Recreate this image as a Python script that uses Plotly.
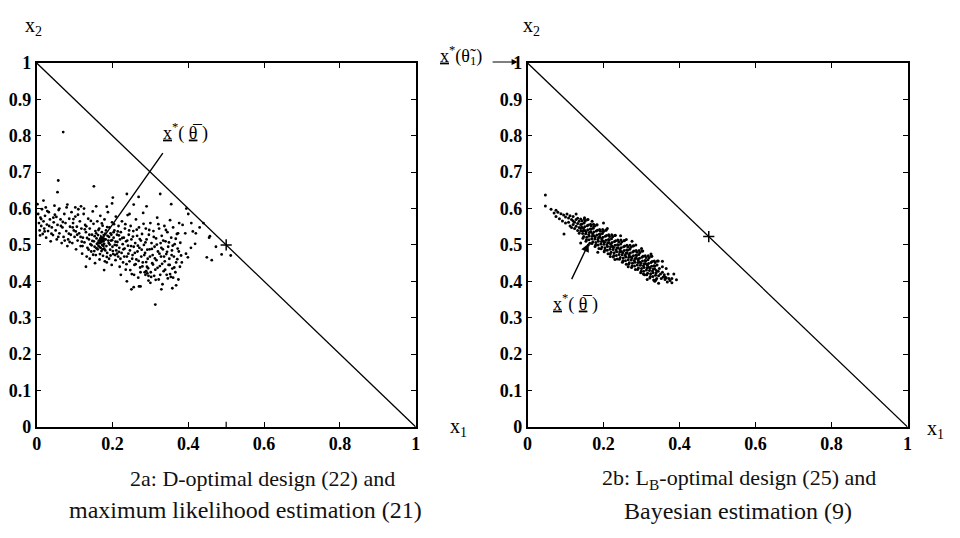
import plotly.graph_objects as go

# ---------------- data ----------------
# Panel 2a: ML estimates of the optimal design point (x1, x2)
left_pts = [
    # sparse outliers
    (0.070, 0.810), (0.057, 0.677), (0.055, 0.645), (0.151, 0.661), (0.238, 0.640), (0.326, 0.640),
    (0.313, 0.336), (0.400, 0.585), (0.440, 0.560), (0.473, 0.495), (0.449, 0.466), (0.462, 0.458),
    (0.488, 0.474), (0.512, 0.471), (0.418, 0.503), (0.407, 0.492), (0.394, 0.476), (0.399, 0.466),
    (0.381, 0.471), (0.373, 0.532), (0.250, 0.378), (0.270, 0.386), (0.329, 0.378), (0.368, 0.389),
    (0.358, 0.381), (0.300, 0.396), (0.130, 0.440), (0.178, 0.431), (0.201, 0.630), (0.199, 0.614),
    (0.269, 0.632), (0.256, 0.611), (0.245, 0.585), (0.018, 0.622), (0.117, 0.606), (0.102, 0.603),
    (0.157, 0.606), (0.081, 0.611), (0.060, 0.600), (0.290, 0.606), (0.355, 0.612), (0.395, 0.600),
    (0.420, 0.532), (0.457, 0.524), (0.412, 0.537), (0.392, 0.532), (0.430, 0.548), (0.408, 0.560),
    (0.385, 0.555), (0.455, 0.520), (0.360, 0.410), (0.352, 0.420), (0.222, 0.418), (0.238, 0.400),
    (0.185, 0.452), (0.256, 0.384), (0.274, 0.386),
    # left part of cloud
    (0.004, 0.585), (0.006, 0.560), (0.008, 0.540), (0.010, 0.575), (0.012, 0.552), (0.014, 0.598),
    (0.016, 0.530), (0.018, 0.565), (0.020, 0.545), (0.022, 0.580), (0.025, 0.520), (0.027, 0.556),
    (0.030, 0.538), (0.032, 0.590), (0.035, 0.570), (0.037, 0.510), (0.040, 0.548), (0.043, 0.527),
    (0.045, 0.562), (0.048, 0.583), (0.050, 0.540), (0.053, 0.515), (0.055, 0.555), (0.058, 0.596),
    (0.060, 0.532), (0.063, 0.570), (0.066, 0.505), (0.068, 0.548), (0.071, 0.522), (0.073, 0.585),
    (0.076, 0.560), (0.078, 0.538), (0.081, 0.497), (0.083, 0.515), (0.086, 0.572), (0.088, 0.550),
    (0.090, 0.528), (0.002, 0.612), (0.024, 0.603), (0.047, 0.608),
    (0.012, 0.571), (0.028, 0.593), (0.039, 0.531), (0.052, 0.577), (0.064, 0.552), (0.079, 0.603),
    (0.087, 0.508), (0.095, 0.548), (0.085, 0.531), (0.074, 0.512), (0.069, 0.563), (0.057, 0.522),
    (0.044, 0.575), (0.033, 0.552), (0.021, 0.537), (0.009, 0.526),
    # middle part (dense centre)
    (0.092, 0.590), (0.094, 0.505), (0.096, 0.560), (0.098, 0.540), (0.100, 0.522), (0.102, 0.578),
    (0.104, 0.488), (0.106, 0.550), (0.108, 0.512), (0.110, 0.598), (0.112, 0.532), (0.114, 0.565),
    (0.116, 0.497), (0.118, 0.545), (0.120, 0.476), (0.122, 0.520), (0.124, 0.585), (0.126, 0.507),
    (0.128, 0.555), (0.130, 0.535), (0.132, 0.468), (0.134, 0.492), (0.136, 0.572), (0.138, 0.515),
    (0.140, 0.545), (0.142, 0.502), (0.144, 0.482), (0.146, 0.528), (0.148, 0.592), (0.150, 0.558),
    (0.151, 0.510), (0.153, 0.495), (0.155, 0.538), (0.156, 0.472), (0.158, 0.518), (0.159, 0.503),
    (0.160, 0.565), (0.161, 0.488), (0.162, 0.527), (0.163, 0.498), (0.164, 0.512), (0.165, 0.545),
    (0.166, 0.460), (0.167, 0.505), (0.168, 0.580), (0.169, 0.492), (0.170, 0.520), (0.171, 0.483),
    (0.172, 0.535), (0.173, 0.500), (0.174, 0.553), (0.175, 0.470), (0.176, 0.510), (0.177, 0.527),
    (0.178, 0.490), (0.179, 0.570), (0.180, 0.455), (0.182, 0.515), (0.183, 0.540), (0.184, 0.497),
    (0.186, 0.478), (0.187, 0.525), (0.188, 0.590), (0.190, 0.505), (0.191, 0.462), (0.192, 0.548),
    (0.194, 0.487), (0.195, 0.532), (0.196, 0.512), (0.198, 0.445), (0.199, 0.562), (0.200, 0.495),
    (0.202, 0.475), (0.203, 0.520), (0.205, 0.540), (0.206, 0.500), (0.208, 0.458), (0.209, 0.578),
    (0.210, 0.485), (0.212, 0.528), (0.213, 0.508), (0.215, 0.468), (0.216, 0.552), (0.218, 0.492),
    (0.219, 0.440), (0.220, 0.515), (0.154, 0.450), (0.140, 0.462), (0.125, 0.600), (0.185, 0.605),
    (0.097, 0.571), (0.103, 0.537), (0.109, 0.583), (0.119, 0.509), (0.127, 0.543), (0.133, 0.519),
    (0.137, 0.487), (0.143, 0.566), (0.147, 0.511), (0.152, 0.483), (0.157, 0.532), (0.162, 0.506),
    (0.166, 0.494), (0.168, 0.517), (0.171, 0.508), (0.174, 0.488), (0.178, 0.503), (0.181, 0.531),
    (0.185, 0.467), (0.189, 0.512), (0.193, 0.501), (0.197, 0.528), (0.201, 0.483), (0.204, 0.557),
    (0.207, 0.472), (0.211, 0.499), (0.214, 0.537), (0.217, 0.481), (0.116, 0.522), (0.121, 0.497),
    (0.131, 0.551), (0.139, 0.528), (0.145, 0.499), (0.149, 0.473), (0.153, 0.524), (0.158, 0.491),
    (0.163, 0.541), (0.167, 0.475), (0.172, 0.559), (0.176, 0.497), (0.181, 0.485), (0.186, 0.549),
    (0.191, 0.522), (0.195, 0.471), (0.199, 0.513), (0.203, 0.535), (0.208, 0.509), (0.212, 0.476),
    (0.217, 0.526), (0.107, 0.528),
    # right part
    (0.222, 0.535), (0.224, 0.478), (0.225, 0.565), (0.227, 0.502), (0.228, 0.452), (0.230, 0.520),
    (0.232, 0.490), (0.233, 0.545), (0.235, 0.432), (0.236, 0.510), (0.238, 0.468), (0.240, 0.582),
    (0.241, 0.498), (0.243, 0.528), (0.245, 0.455), (0.246, 0.485), (0.248, 0.552), (0.250, 0.515),
    (0.251, 0.420), (0.253, 0.472), (0.255, 0.538), (0.256, 0.495), (0.258, 0.445), (0.260, 0.505),
    (0.262, 0.570), (0.263, 0.460), (0.265, 0.525), (0.266, 0.482), (0.268, 0.410), (0.270, 0.548),
    (0.271, 0.492), (0.273, 0.438), (0.275, 0.512), (0.276, 0.468), (0.278, 0.530), (0.280, 0.452),
    (0.281, 0.588), (0.283, 0.500), (0.285, 0.425), (0.286, 0.478), (0.288, 0.545), (0.290, 0.515),
    (0.291, 0.440), (0.293, 0.462), (0.295, 0.402), (0.296, 0.528), (0.298, 0.488), (0.300, 0.560),
    (0.301, 0.425), (0.303, 0.505), (0.305, 0.450), (0.306, 0.472), (0.308, 0.538), (0.310, 0.415),
    (0.311, 0.495), (0.313, 0.432), (0.315, 0.518), (0.316, 0.458), (0.318, 0.575), (0.320, 0.482),
    (0.322, 0.405), (0.323, 0.545), (0.325, 0.442), (0.327, 0.505), (0.328, 0.468), (0.330, 0.525),
    (0.332, 0.392), (0.333, 0.488), (0.335, 0.428), (0.337, 0.552), (0.338, 0.455), (0.340, 0.510),
    (0.342, 0.475), (0.343, 0.418), (0.345, 0.535), (0.347, 0.495), (0.348, 0.445), (0.350, 0.462),
    (0.352, 0.568), (0.354, 0.412), (0.355, 0.520), (0.357, 0.485), (0.358, 0.435), (0.360, 0.548),
    (0.362, 0.468), (0.364, 0.502), (0.366, 0.425), (0.368, 0.452), (0.370, 0.530), (0.372, 0.490),
    (0.374, 0.405), (0.376, 0.560), (0.378, 0.440),
    (0.287, 0.418), (0.292, 0.422), (0.289, 0.428), (0.295, 0.415),
    (0.221, 0.462), (0.226, 0.519), (0.229, 0.488), (0.231, 0.468), (0.234, 0.557), (0.237, 0.447),
    (0.239, 0.512), (0.242, 0.476), (0.244, 0.540), (0.247, 0.431), (0.249, 0.497), (0.252, 0.462),
    (0.254, 0.523), (0.257, 0.418), (0.259, 0.478), (0.261, 0.447), (0.264, 0.542), (0.267, 0.498),
    (0.269, 0.456), (0.272, 0.516), (0.274, 0.425), (0.277, 0.487), (0.279, 0.441), (0.282, 0.558),
    (0.284, 0.472), (0.287, 0.507), (0.289, 0.453), (0.292, 0.487), (0.294, 0.436), (0.297, 0.541),
    (0.299, 0.468), (0.302, 0.412), (0.304, 0.489), (0.307, 0.446), (0.309, 0.522), (0.312, 0.463),
    (0.314, 0.404), (0.317, 0.501), (0.319, 0.437), (0.321, 0.557), (0.324, 0.476), (0.326, 0.418),
    (0.329, 0.492), (0.331, 0.448), (0.334, 0.512), (0.336, 0.468), (0.339, 0.432), (0.341, 0.541),
    (0.344, 0.481), (0.346, 0.408), (0.349, 0.507), (0.351, 0.445), (0.356, 0.472), (0.359, 0.498),
    (0.363, 0.438), (0.367, 0.517), (0.371, 0.461), (0.375, 0.482), (0.379, 0.506), (0.383, 0.452),
]

# Panel 2b: Bayesian estimates of the optimal design point (x1, x2)
right_pts = [
    (0.047, 0.637), (0.047, 0.607), (0.096, 0.530), (0.140, 0.505), (0.260, 0.515), (0.200, 0.560),
    (0.300, 0.490),
    (0.150, 0.575), (0.170, 0.565), (0.185, 0.480), (0.210, 0.545), (0.230, 0.460), (0.245, 0.525),
    (0.265, 0.440), (0.285, 0.500), (0.305, 0.420), (0.325, 0.475), (0.335, 0.400), (0.160, 0.500),
    (0.128, 0.585), (0.218, 0.468), (0.275, 0.510), (0.315, 0.405), (0.345, 0.395), (0.355, 0.455),
    (0.385, 0.420), (0.365, 0.435),
    (0.062, 0.598), (0.070, 0.588), (0.075, 0.595), (0.075, 0.578), (0.080, 0.590), (0.084, 0.572),
    (0.088, 0.586), (0.092, 0.566), (0.095, 0.582), (0.100, 0.577), (0.100, 0.560), (0.104, 0.585),
    (0.108, 0.562), (0.108, 0.574), (0.112, 0.552), (0.112, 0.580), (0.116, 0.570), (0.116, 0.548),
    (0.120, 0.566), (0.120, 0.556), (0.120, 0.578), (0.124, 0.545), (0.124, 0.562), (0.128, 0.570),
    (0.128, 0.551), (0.132, 0.540), (0.132, 0.559), (0.132, 0.573), (0.136, 0.548), (0.136, 0.532),
    (0.136, 0.565), (0.140, 0.556), (0.140, 0.538), (0.140, 0.545), (0.140, 0.571),
    (0.1425, 0.5496), (0.1450, 0.5316), (0.1440, 0.5666), (0.1458, 0.5186), (0.1432, 0.5576),
    (0.1465, 0.5382), (0.1490, 0.5602), (0.1480, 0.5232), (0.1498, 0.5712), (0.1472, 0.5452),
    (0.1505, 0.5498), (0.1530, 0.5308), (0.1520, 0.5658), (0.1538, 0.5098), (0.1512, 0.5398),
    (0.1545, 0.5364), (0.1570, 0.5524), (0.1560, 0.5214), (0.1578, 0.5694), (0.1552, 0.5144),
    (0.1585, 0.5420), (0.1610, 0.5290), (0.1600, 0.5550), (0.1618, 0.5140), (0.1592, 0.5700),
    (0.1625, 0.5246), (0.1650, 0.5436), (0.1640, 0.5046), (0.1658, 0.5566), (0.1632, 0.5346),
    (0.1665, 0.5352), (0.1690, 0.5172), (0.1680, 0.5522), (0.1698, 0.5042), (0.1672, 0.5432),
    (0.1705, 0.5238), (0.1730, 0.5458), (0.1720, 0.5088), (0.1738, 0.5568), (0.1712, 0.5308),
    (0.1745, 0.5354), (0.1770, 0.5164), (0.1760, 0.5514), (0.1778, 0.4954), (0.1752, 0.5254),
    (0.1785, 0.5220), (0.1810, 0.5380), (0.1800, 0.5070), (0.1818, 0.5550), (0.1792, 0.5000),
    (0.1825, 0.5276), (0.1850, 0.5146), (0.1840, 0.5406), (0.1858, 0.4996), (0.1832, 0.5556),
    (0.1865, 0.5102), (0.1890, 0.5292), (0.1880, 0.4902), (0.1898, 0.5422), (0.1872, 0.5202),
    (0.1905, 0.5208), (0.1930, 0.5028), (0.1920, 0.5378), (0.1938, 0.4898), (0.1912, 0.5288),
    (0.1945, 0.5094), (0.1970, 0.5314), (0.1960, 0.4944), (0.1978, 0.5424), (0.1952, 0.5164),
    (0.1985, 0.5210), (0.2010, 0.5020), (0.2000, 0.5370), (0.2018, 0.4810), (0.1992, 0.5110),
    (0.2025, 0.5076), (0.2050, 0.5236), (0.2040, 0.4926), (0.2058, 0.5406), (0.2032, 0.4856),
    (0.2065, 0.5132), (0.2090, 0.5002), (0.2080, 0.5262), (0.2098, 0.4852), (0.2072, 0.5412),
    (0.2105, 0.4958), (0.2130, 0.5148), (0.2120, 0.4758), (0.2138, 0.5278), (0.2112, 0.5058),
    (0.2145, 0.5064), (0.2170, 0.4884), (0.2160, 0.5234), (0.2178, 0.4754), (0.2152, 0.5144),
    (0.2185, 0.4950), (0.2210, 0.5170), (0.2200, 0.4800), (0.2218, 0.5280), (0.2192, 0.5020),
    (0.2225, 0.5066), (0.2250, 0.4876), (0.2240, 0.5226), (0.2258, 0.4666), (0.2232, 0.4966),
    (0.2265, 0.4932), (0.2290, 0.5092), (0.2280, 0.4782), (0.2298, 0.5262), (0.2272, 0.4712),
    (0.2305, 0.4988), (0.2330, 0.4858), (0.2320, 0.5118), (0.2338, 0.4708), (0.2312, 0.5268),
    (0.2345, 0.4814), (0.2370, 0.5004), (0.2360, 0.4614), (0.2378, 0.5134), (0.2352, 0.4914),
    (0.2385, 0.4920), (0.2410, 0.4740), (0.2400, 0.5090), (0.2418, 0.4610), (0.2392, 0.5000),
    (0.2425, 0.4806), (0.2450, 0.5026), (0.2440, 0.4656), (0.2458, 0.5136), (0.2432, 0.4876),
    (0.2465, 0.4922), (0.2490, 0.4732), (0.2480, 0.5082), (0.2498, 0.4522), (0.2472, 0.4822),
    (0.2505, 0.4788), (0.2530, 0.4948), (0.2520, 0.4638), (0.2538, 0.5118), (0.2512, 0.4568),
    (0.2545, 0.4844), (0.2570, 0.4714), (0.2560, 0.4974), (0.2578, 0.4564), (0.2552, 0.5124),
    (0.2585, 0.4670), (0.2610, 0.4860), (0.2600, 0.4470), (0.2618, 0.4990), (0.2592, 0.4770),
    (0.2625, 0.4776), (0.2650, 0.4596), (0.2640, 0.4946), (0.2658, 0.4466), (0.2632, 0.4856),
    (0.2665, 0.4662), (0.2690, 0.4882), (0.2680, 0.4512), (0.2698, 0.4992), (0.2672, 0.4732),
    (0.2705, 0.4778), (0.2730, 0.4588), (0.2720, 0.4938), (0.2738, 0.4378), (0.2712, 0.4678),
    (0.2745, 0.4644), (0.2770, 0.4804), (0.2760, 0.4494), (0.2778, 0.4974), (0.2752, 0.4424),
    (0.2785, 0.4700), (0.2810, 0.4570), (0.2800, 0.4830), (0.2818, 0.4420), (0.2792, 0.4980),
    (0.2825, 0.4526), (0.2850, 0.4716), (0.2840, 0.4326), (0.2858, 0.4846), (0.2832, 0.4626),
    (0.2865, 0.4632), (0.2890, 0.4452), (0.2880, 0.4802), (0.2898, 0.4322), (0.2872, 0.4712),
    (0.2905, 0.4518), (0.2930, 0.4738), (0.2920, 0.4368), (0.2938, 0.4848), (0.2912, 0.4588),
    (0.2945, 0.4634), (0.2970, 0.4444), (0.2960, 0.4794), (0.2978, 0.4234), (0.2952, 0.4534),
    (0.2985, 0.4500), (0.3010, 0.4660), (0.3000, 0.4350), (0.3018, 0.4830), (0.2992, 0.4280),
    (0.3025, 0.4556), (0.3050, 0.4426), (0.3040, 0.4686), (0.3058, 0.4276), (0.3032, 0.4836),
    (0.3065, 0.4382), (0.3090, 0.4572), (0.3080, 0.4182), (0.3098, 0.4702), (0.3072, 0.4482),
    (0.3105, 0.4488), (0.3130, 0.4308), (0.3120, 0.4658), (0.3138, 0.4178), (0.3112, 0.4568),
    (0.3145, 0.4374), (0.3170, 0.4594), (0.3160, 0.4224), (0.3178, 0.4704), (0.3152, 0.4444),
    (0.3185, 0.4490), (0.3210, 0.4300), (0.3200, 0.4650), (0.3218, 0.4090), (0.3192, 0.4390),
    (0.3225, 0.4356), (0.3250, 0.4516), (0.3240, 0.4206), (0.3258, 0.4686), (0.3232, 0.4136),
    (0.3265, 0.4412), (0.3290, 0.4282), (0.3280, 0.4542), (0.3298, 0.4132), (0.3272, 0.4692),
    (0.3305, 0.4238), (0.3330, 0.4428), (0.3320, 0.4038), (0.3338, 0.4558), (0.3312, 0.4338),
    (0.3345, 0.4344), (0.3370, 0.4164), (0.3360, 0.4514), (0.3378, 0.4034), (0.3352, 0.4424),
    (0.3385, 0.4230), (0.3410, 0.4450), (0.3400, 0.4080), (0.3418, 0.4560), (0.3392, 0.4300),
    (0.344, 0.428), (0.345, 0.415), (0.347, 0.435), (0.350, 0.420), (0.352, 0.408), (0.355, 0.425),
    (0.357, 0.412), (0.360, 0.418), (0.362, 0.405), (0.365, 0.410), (0.368, 0.398), (0.372, 0.408),
    (0.375, 0.402), (0.380, 0.396), (0.392, 0.404), (0.355, 0.440), (0.370, 0.420), (0.344, 0.456),
    (0.362, 0.411), (0.380, 0.408),
]

# Design-space boundary x1 + x2 = 1
boundary_x = [0, 1]
boundary_y = [1, 0]
# optimal design points marked on the boundary
left_design = [(0.5, 0.5)]
right_design = [(0.477, 0.523)]
# true-parameter optimum x*(theta-bar) pointed at by arrows
left_true = (0.164, 0.503)
right_true = (0.161, 0.504)

xtick_vals = [0, 0.2, 0.4, 0.6, 0.8, 1]
xtick_text = ["0", "0.2", "0.4", "0.6", "0.8", "1"]
ytick_vals = [0, 0.1, 0.2, 0.3, 0.4, 0.5, 0.6, 0.7, 0.8, 0.9, 1]
ytick_text = ["0", "0.1", "0.2", "0.3", "0.4", "0.5", "0.6", "0.7", "0.8", "0.9", "1"]

captions_left = ["2a: D-optimal design (22) and", "maximum likelihood estimation (21)"]
captions_right = ["2b: L<sub>B</sub>-optimal design (25) and", "Bayesian estimation (9)"]

# ---------------- figure ----------------
FONT = "Liberation Serif"
W, H = 960, 538

def px(xp):
    return xp / W

def py(yp):
    return 1 - yp / H

fig = go.Figure()

for pts, xa, ya, ms in [(left_pts, "x", "y", 2.8), (right_pts, "x2", "y2", 3.0)]:
    fig.add_trace(go.Scatter(
        x=[p[0] for p in pts], y=[p[1] for p in pts], mode="markers",
        marker=dict(size=ms, color="black"), xaxis=xa, yaxis=ya, hoverinfo="skip"))
    fig.add_trace(go.Scatter(
        x=boundary_x, y=boundary_y, mode="lines", line=dict(color="black", width=1.3),
        xaxis=xa, yaxis=ya, hoverinfo="skip"))

for pts, xa, ya in [(left_design, "x", "y"), (right_design, "x2", "y2")]:
    fig.add_trace(go.Scatter(
        x=[p[0] for p in pts], y=[p[1] for p in pts], mode="markers",
        marker=dict(symbol="cross-thin", size=8, line=dict(color="black", width=1.5)),
        xaxis=xa, yaxis=ya, hoverinfo="skip"))

axis_common = dict(
    range=[0, 1], showgrid=False, zeroline=False, showline=True, linecolor="black",
    linewidth=1.5, mirror="ticks", ticks="inside", ticklen=5, tickwidth=1.2,
    tickcolor="black", tickfont=dict(family=FONT, size=18, color="black", weight="bold"),
    fixedrange=True,
)

ydom = [py(433), py(55)]
fig.update_layout(
    width=W, height=H, margin=dict(l=0, r=0, t=0, b=0),
    paper_bgcolor="white", plot_bgcolor="white", showlegend=False,
    xaxis=dict(axis_common, domain=[px(32), px(415)], anchor="y",
               tickvals=xtick_vals, ticktext=xtick_text),
    yaxis=dict(axis_common, domain=ydom, anchor="x",
               tickvals=ytick_vals, ticktext=ytick_text),
    xaxis2=dict(axis_common, domain=[px(528), px(912)], anchor="y2",
                tickvals=xtick_vals, ticktext=xtick_text),
    yaxis2=dict(axis_common, domain=ydom, anchor="x2",
                tickvals=ytick_vals, ticktext=ytick_text),
)

# extra tick at x1 = 0.5 on the left panel's bottom axis
fig.add_shape(type="line", xref="x", yref="y domain", x0=0.5, x1=0.5, y0=0, y1=0.014,
              line=dict(color="black", width=1.2))

ann = []

def text_ann(text, xp, yp, font):
    return dict(text=text, x=px(xp), y=py(yp), xref="paper", yref="paper", showarrow=False,
                xanchor="center", yanchor="middle", font=font)

lab_font = dict(family=FONT, size=20, color="black")
# axis names
ann.append(text_ann("x<sub>2</sub>", 29, 17, lab_font))
ann.append(text_ann("x<sub>1</sub>", 458, 434, lab_font))
ann.append(text_ann("x<sub>2</sub>", 532, 17, lab_font))
ann.append(text_ann("x<sub>1</sub>", 940, 436, lab_font))

# captions
cap1_font = dict(family=FONT, size=22, color="#111111")
cap2_font = dict(family=FONT, size=24, color="#111111")
ann.append(text_ann(captions_left[0], 260, 487, cap1_font))
ann.append(text_ann(captions_left[1], 243, 519, cap2_font))
ann.append(text_ann(captions_right[0], 742, 487, cap1_font))
ann.append(text_ann(captions_right[1], 741, 520, cap2_font))

# x*(theta-bar) labels and arrows
lbl_font = dict(family=FONT, size=18, color="black")
theta_bar = "<u>x</u><sup>*</sup>( <u>\u03b8\u0305</u> )"
ann.append(text_ann(theta_bar, 182, 127, lbl_font))
ann.append(dict(text=" ", x=left_true[0], y=left_true[1], xref="x", yref="y", showarrow=True,
                ax=67, ay=-95, arrowhead=2, arrowsize=1.2, arrowwidth=1.4, arrowcolor="black", standoff=0))
ann.append(text_ann(theta_bar, 577, 304, lbl_font))
ann.append(dict(text=" ", x=right_true[0], y=right_true[1], xref="x2", yref="y2", showarrow=True,
                ax=-20, ay=42, arrowhead=2, arrowsize=1.2, arrowwidth=1.4, arrowcolor="black", standoff=0))
# x*(theta~1) at the corner (0,1) of panel 2b
ann.append(text_ann("<u>x</u><sup>*</sup>(\u03b8\u0303<sub>1</sub>)", 461, 47, lbl_font))
ann.append(dict(text=" ", x=px(518), y=py(54), xref="paper", yref="paper", showarrow=True,
                ax=-28, ay=0, arrowhead=2, arrowsize=1.0, arrowwidth=1.2, arrowcolor="black", standoff=0))

fig.update_layout(annotations=ann)

fig.write_html("out.html")
